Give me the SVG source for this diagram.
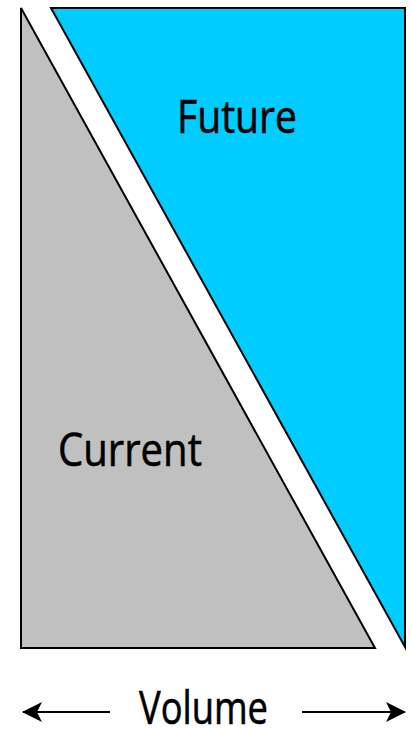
<svg xmlns="http://www.w3.org/2000/svg" width="411" height="729" viewBox="0 0 411 729">
<style>
.shape{stroke:#000;stroke-width:2;stroke-linejoin:miter}
.lbl{font-family:"Open Sans","Liberation Sans",sans-serif;font-size:46px;fill:#000;stroke:#000;stroke-width:0.6}
.arr{stroke:#000;stroke-width:2;fill:none}
</style>
<defs>
<marker id="ah" viewBox="0 0 20 20" refX="19" refY="10" markerWidth="20" markerHeight="20" markerUnits="userSpaceOnUse" orient="auto">
<path d="M0,0 L20,10 L0,20 L5,10 Z" fill="#000"/>
</marker>
</defs>
<rect width="411" height="729" fill="#fff"/>
<g id="current">
<polygon class="shape" points="21,8 375,648 21,648" fill="#C0C0C0"/>
<text class="lbl" x="58" y="466" textLength="144" lengthAdjust="spacingAndGlyphs">Current</text>
</g>
<g id="future">
<polygon class="shape" points="51,8 405,8 405,647" fill="#00CCFF"/>
<text class="lbl" x="177" y="133" textLength="120" lengthAdjust="spacingAndGlyphs">Future</text>
</g>
<g id="connectors">
<line class="arr" x1="110" y1="712" x2="23" y2="712" marker-end="url(#ah)"/>
<line class="arr" x1="302" y1="712" x2="405" y2="712" marker-end="url(#ah)"/>
</g>
<g id="volume">
<text class="lbl" x="139" y="724" font-size="44" textLength="129" lengthAdjust="spacingAndGlyphs">Volume</text>
</g>
</svg>
